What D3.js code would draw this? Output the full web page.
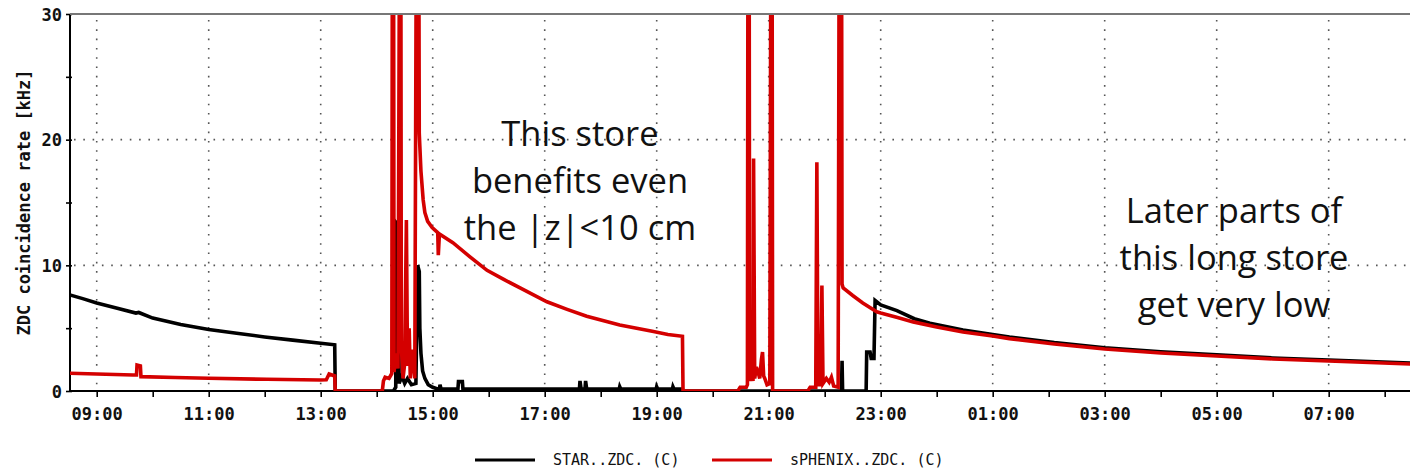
<!DOCTYPE html>
<html>
<head>
<meta charset="utf-8">
<script src="https://cdn.jsdelivr.net/npm/d3@7"></script>
<style>
  html, body { margin: 0; padding: 0; background: #fff; }
  svg { display: block; }
</style>
</head>
<body>
<svg id="chart" width="1410" height="473"></svg>
<script>
// Time axis is in hours since midnight of the first day (24+ = next day).
const hourTicks  = [9, 11, 13, 15, 17, 19, 21, 23, 25, 27, 29, 31];
const hourLabels = ["09:00", "11:00", "13:00", "15:00", "17:00", "19:00",
                    "21:00", "23:00", "01:00", "03:00", "05:00", "07:00"];
const minorHours = [9, 10, 11, 12, 13, 14, 15, 16, 17, 18, 19, 20, 21, 22,
                    23, 24, 25, 26, 27, 28, 29, 30, 31, 32];
const rateTicks  = [0, 5, 10, 15, 20, 25, 30];
const rateLabels = [0, 10, 20, 30];
const rateGrid   = [10, 20];

const seriesNames = ["STAR..ZDC. (C)", "sPHENIX..ZDC. (C)"];
const seriesColors = ["#000000", "#d40000"];

// STAR ZDC coincidence rate [kHz]
const starZdc = [
  [8.52, 7.65], [8.75, 7.35], [9.0, 7.0], [9.35, 6.6], [9.7, 6.2], [9.75, 6.25],
  [10.0, 5.8], [10.5, 5.3], [11.0, 4.9], [11.5, 4.6], [12.0, 4.3], [12.5, 4.05],
  [13.0, 3.8], [13.25, 3.68], [13.26, 0],
  [14.3, 0], [14.34, 0.3], [14.35, 13.4], [14.39, 13.2], [14.4, 0.6],
  [14.45, 1.2], [14.5, 0.6], [14.55, 1.0], [14.62, 0.5], [14.7, 0.6],
  [14.73, 10.0], [14.76, 9.5], [14.77, 5.0], [14.79, 3.0], [14.82, 1.6],
  [14.86, 1.0], [14.92, 0.5], [15.0, 0.3], [15.1, 0.15], [15.12, 0.15],
  [15.13, 0.5], [15.15, 0.15], [15.45, 0.15], [15.46, 0.75], [15.53, 0.75],
  [15.54, 0.15], [17.62, 0.15], [17.63, 0.8], [17.65, 0.15], [17.72, 0.15],
  [17.73, 0.8], [17.75, 0.15], [18.33, 0.15], [18.34, 0.35], [18.36, 0.15],
  [18.99, 0.15], [19.0, 0.35], [19.02, 0.15], [19.28, 0.15], [19.29, 0.35],
  [19.31, 0.15], [19.46, 0.15], [19.47, 0],
  [22.3, 0], [22.31, 2.4], [22.32, 0], [22.74, 0], [22.75, 3.1], [22.81, 3.1],
  [22.83, 2.6], [22.88, 2.6], [22.9, 7.2], [23.0, 6.85], [23.29, 6.4],
  [23.6, 5.75], [23.88, 5.4], [24.47, 4.85], [25.0, 4.5], [25.3, 4.3],
  [26.1, 3.85], [27.0, 3.44], [28.0, 3.12], [29.0, 2.88], [30.0, 2.63],
  [31.0, 2.47], [32.46, 2.22]
];

// sPHENIX ZDC coincidence rate [kHz]
const sphenixZdc = [
  [8.52, 1.41], [9.0, 1.35], [9.65, 1.27], [9.71, 1.27], [9.72, 2.07],
  [9.78, 2.0], [9.79, 1.14], [10.4, 1.08], [11.0, 1.01], [12.04, 0.93],
  [12.99, 0.88], [13.1, 0.9], [13.15, 1.35], [13.25, 1.2], [13.26, 0],
  [14.1, 0], [14.12, 0.8], [14.15, 1.1], [14.22, 1.0], [14.27, 1.4],
  [14.28, 40], [14.3, 40], [14.31, 1.5], [14.34, 3.0], [14.38, 1.8],
  [14.41, 40], [14.43, 40], [14.44, 3.5], [14.47, 1.0], [14.5, 2.2],
  [14.53, 13.6], [14.55, 2.0], [14.58, 5.0], [14.6, 1.0], [14.65, 3.3],
  [14.68, 1.0], [14.71, 40], [14.75, 40], [14.76, 20.5], [14.79, 17.5],
  [14.83, 15.2], [14.86, 14.2], [14.91, 13.5], [14.99, 13.0], [15.09, 12.6],
  [15.1, 10.8], [15.12, 12.5], [15.36, 11.8], [15.66, 10.7], [15.97, 9.6],
  [16.26, 8.9], [16.56, 8.2], [17.04, 7.1], [17.4, 6.5], [17.75, 5.95],
  [18.34, 5.25], [18.92, 4.75], [19.2, 4.5], [19.46, 4.35], [19.47, 0],
  [20.45, 0], [20.49, 0.3], [20.6, 0.3], [20.62, 0.5], [20.63, 40], [20.65, 40],
  [20.66, 0.8], [20.68, 1.4], [20.7, 1.2], [20.72, 0.8], [20.73, 18.5],
  [20.75, 1.0], [20.78, 1.9], [20.81, 1.5], [20.84, 1.0], [20.87, 2.5],
  [20.89, 3.1], [20.91, 1.2], [20.93, 1.0], [20.97, 0.5], [21.02, 0.6],
  [21.04, 40], [21.06, 40], [21.07, 0],
  [21.7, 0], [21.74, 0.3], [21.84, 0.3], [21.86, 18.2], [21.88, 0.5],
  [21.93, 0.5], [21.95, 8.4], [21.97, 0.6], [22.03, 1.0], [22.08, 0.7],
  [22.12, 1.1], [22.16, 0.4], [22.24, 0.3], [22.26, 40], [22.3, 40],
  [22.31, 8.5], [22.33, 8.2], [22.5, 7.6], [22.68, 7.0], [22.93, 6.3],
  [23.0, 6.2], [23.3, 5.85], [23.58, 5.5], [24.0, 5.1], [24.47, 4.7],
  [25.0, 4.38], [25.3, 4.17], [26.1, 3.74], [27.0, 3.34], [28.0, 3.02],
  [29.0, 2.79], [30.0, 2.55], [31.0, 2.39], [32.46, 2.15]
];

// Text notes placed in data coordinates (baseline of first line)
const notes = [
  { lines: ["This store", "benefits even", "the |z|<10 cm"], hour: 17.63, rate: 19.5 },
  { lines: ["Later parts of", "this long store", "get very low"], hour: 29.31, rate: 13.37 }
];

const svg = d3.select("#chart");
const plot = { left: 70, right: 1410, top: 14, bottom: 391 };

const x = d3.scaleLinear().domain([8.523, 32.452]).range([plot.left, plot.right]);
const y = d3.scaleLinear().domain([0, 30]).range([plot.bottom, plot.top]);

const monoBold = "'DejaVu Sans Mono', 'Liberation Mono', monospace";

svg.append("defs").append("clipPath").attr("id", "plot-clip")
  .append("rect")
  .attr("x", plot.left).attr("y", plot.top)
  .attr("width", plot.right - plot.left).attr("height", plot.bottom - plot.top);

// Dotted grid
const grid = svg.append("g").attr("stroke", "#555").attr("stroke-width", 1.6)
  .attr("stroke-dasharray", "1.6,7.7").attr("fill", "none");
grid.selectAll("line.v").data(hourTicks).join("line")
  .attr("x1", d => x(d)).attr("x2", d => x(d))
  .attr("y1", plot.top + 6).attr("y2", plot.bottom);
grid.selectAll("line.h").data(rateGrid).join("line")
  .attr("x1", plot.left + 4).attr("x2", plot.right)
  .attr("y1", d => y(d)).attr("y2", d => y(d));

// Axes
const xAxis = d3.axisBottom(x).tickValues(minorHours).tickSize(6).tickFormat("");
const gx = svg.append("g").attr("transform", `translate(0,${plot.bottom})`).call(xAxis);
gx.select(".domain").attr("stroke", "#000").attr("stroke-width", 2)
  .attr("d", `M${plot.left},0H${plot.right}`);
gx.selectAll(".tick line").attr("stroke", "#000").attr("stroke-width", 1.6);

const labelAxis = d3.axisBottom(x).tickValues(hourTicks).tickSize(0)
  .tickFormat((d, i) => hourLabels[i]);
const gxl = svg.append("g").attr("transform", `translate(0,${plot.bottom})`).call(labelAxis);
gxl.select(".domain").remove();
gxl.selectAll("text")
  .attr("y", 29).attr("dy", 0)
  .attr("font-family", monoBold).attr("font-weight", "bold")
  .attr("font-size", 17).attr("fill", "#111");

const yAxis = d3.axisLeft(y).tickValues(rateTicks).tickSize(5)
  .tickFormat(d => rateLabels.includes(d) ? d : "");
const gy = svg.append("g").attr("transform", `translate(${plot.left},0)`).call(yAxis);
gy.select(".domain").attr("stroke", "#000").attr("stroke-width", 2)
  .attr("d", `M0,${plot.top}V${plot.bottom}`);
gy.selectAll(".tick line").attr("stroke", "#000").attr("stroke-width", 1.6).attr("x2", -4).attr("x1", 2);
gy.selectAll("text")
  .attr("x", -8).attr("dy", "0.36em")
  .attr("font-family", monoBold).attr("font-weight", "bold")
  .attr("font-size", 17).attr("fill", "#111");

svg.append("text")
  .attr("transform", `translate(30,${(plot.top + plot.bottom) / 2}) rotate(-90)`)
  .attr("text-anchor", "middle")
  .attr("font-family", monoBold).attr("font-weight", "bold")
  .attr("font-size", 17).attr("fill", "#111")
  .text("ZDC coincidence rate [kHz]");

// Series
const line = d3.line().x(d => x(d[0])).y(d => y(d[1]));
const series = svg.append("g").attr("clip-path", "url(#plot-clip)");
[starZdc, sphenixZdc].forEach((data, i) => {
  series.append("path")
    .datum(data)
    .attr("fill", "none")
    .attr("stroke", seriesColors[i])
    .attr("stroke-width", 3.6)
    .attr("stroke-linejoin", "miter")
    .attr("d", line);
});

// Top frame
svg.append("line")
  .attr("x1", plot.left).attr("x2", plot.right)
  .attr("y1", plot.top).attr("y2", plot.top)
  .attr("stroke", "#777").attr("stroke-width", 2);

// Annotations
notes.forEach(n => {
  const t = svg.append("text")
    .attr("text-anchor", "middle")
    .attr("font-family", "'Open Sans', 'Noto Sans', sans-serif")
    .attr("font-size", 34.5).attr("fill", "#111");
  n.lines.forEach((s, i) => {
    t.append("tspan").attr("x", x(n.hour)).attr("y", y(n.rate) + i * 47).text(s);
  });
});

// Legend
const legend = svg.append("g").attr("transform", "translate(0,460)");
const legendX = [475, 712];
seriesNames.forEach((name, i) => {
  legend.append("line")
    .attr("x1", legendX[i]).attr("x2", legendX[i] + 60)
    .attr("y1", 0).attr("y2", 0)
    .attr("stroke", seriesColors[i]).attr("stroke-width", 3);
  legend.append("text")
    .attr("x", legendX[i] + 78).attr("y", 0).attr("dy", "0.36em")
    .attr("font-family", monoBold)
    .attr("font-size", 15).attr("fill", "#111")
    .text(name);
});
</script>
</body>
</html>
